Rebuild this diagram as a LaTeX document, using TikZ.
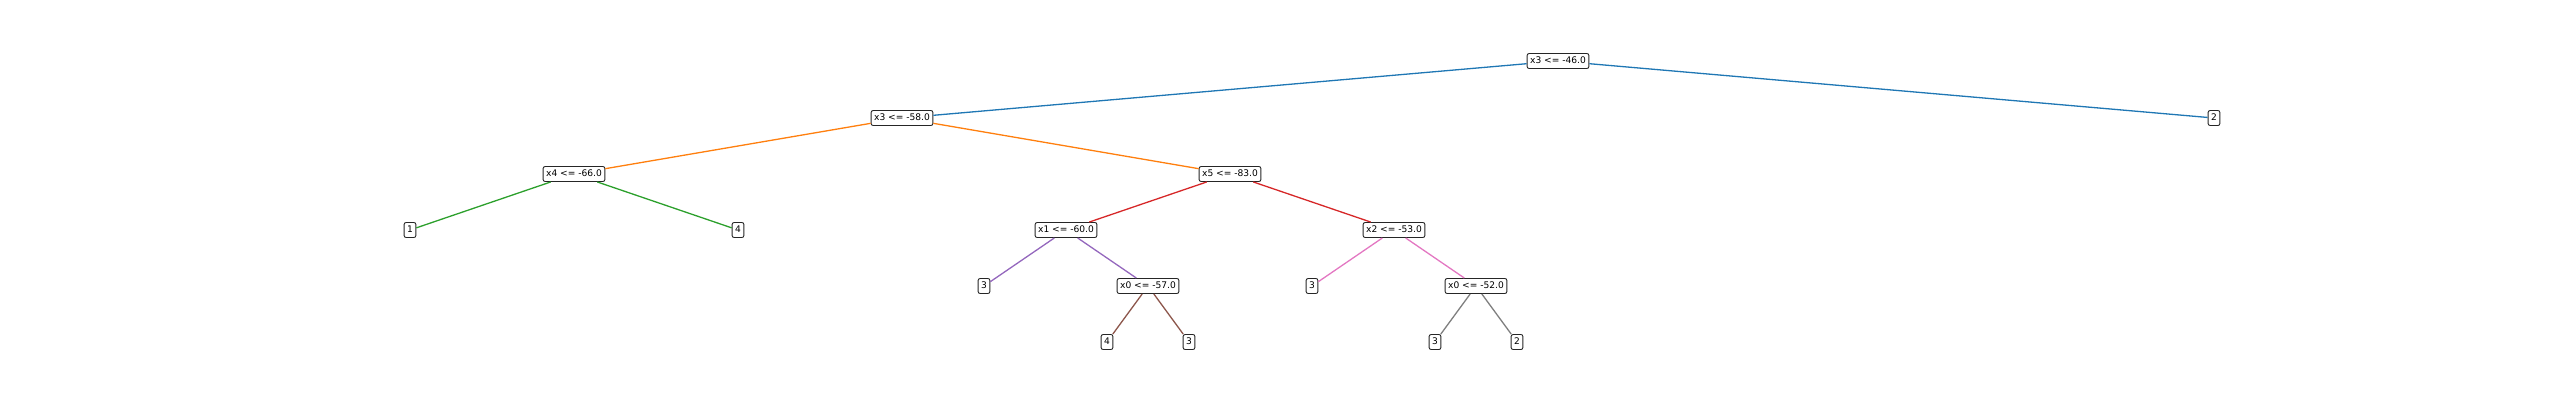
\documentclass[tikz,border=0pt]{standalone}
\usepackage{fontspec}
\setmainfont{DejaVu Sans}
\usetikzlibrary{positioning}
\definecolor{tabblue}{HTML}{1F77B4}
\definecolor{taborange}{HTML}{FF7F0E}
\definecolor{tabgreen}{HTML}{2CA02C}
\definecolor{tabred}{HTML}{D62728}
\definecolor{tabpurple}{HTML}{9467BD}
\definecolor{tabbrown}{HTML}{8C564B}
\definecolor{tabpink}{HTML}{E377C2}
\definecolor{tabgray}{HTML}{7F7F7F}
\tikzset{splitbox/.style={draw=black!85, fill=white, rounded corners=2, line width=0.9pt, inner xsep=3pt, inner ysep=3pt, text height=7pt, text depth=2pt, font=\fontsize{9.1}{11}\selectfont}}
\tikzset{leafbox/.style={splitbox}}
\tikzset{edge/.style={draw, line width=1.3pt}}

\begin{document}
\begin{tikzpicture}[x=1pt,y=-1pt]
	\useasboundingbox (0,0) rectangle (2560,400);
	% split nodes
	\node[splitbox] (r) at (1558,61) {x3 <= -46.0};
	\node[splitbox] (a) at (902,118) {x3 <= -58.0};
	\node[splitbox] (aa) at (574,174) {x4 <= -66.0};
	\node[splitbox] (ab) at (1230,174) {x5 <= -83.0};
	\node[splitbox] (aba) at (1066,230) {x1 <= -60.0};
	\node[splitbox] (abb) at (1394,230) {x2 <= -53.0};
	\node[splitbox] (abab) at (1148,286) {x0 <= -57.0};
	\node[splitbox] (abbb) at (1476,286) {x0 <= -52.0};
	% leaves
	\node[leafbox] (b) at (2214,118) {2};
	\node[leafbox] (aaa) at (410,230) {1};
	\node[leafbox] (aab) at (738,230) {4};
	\node[leafbox] (abaa) at (984,286) {3};
	\node[leafbox] (abba) at (1312,286) {3};
	\node[leafbox] (ababa) at (1107,342) {4};
	\node[leafbox] (ababb) at (1189,342) {3};
	\node[leafbox] (abbba) at (1435,342) {3};
	\node[leafbox] (abbbb) at (1517,342) {2};
	% edges
	\draw[edge, tabblue] (r) -- (a);
	\draw[edge, tabblue] (r) -- (b);
	\draw[edge, taborange] (a) -- (aa);
	\draw[edge, taborange] (a) -- (ab);
	\draw[edge, tabgreen] (aa) -- (aaa);
	\draw[edge, tabgreen] (aa) -- (aab);
	\draw[edge, tabred] (ab) -- (aba);
	\draw[edge, tabred] (ab) -- (abb);
	\draw[edge, tabpurple] (aba) -- (abaa);
	\draw[edge, tabpurple] (aba) -- (abab);
	\draw[edge, tabbrown] (abab) -- (ababa);
	\draw[edge, tabbrown] (abab) -- (ababb);
	\draw[edge, tabpink] (abb) -- (abba);
	\draw[edge, tabpink] (abb) -- (abbb);
	\draw[edge, tabgray] (abbb) -- (abbba);
	\draw[edge, tabgray] (abbb) -- (abbbb);
\end{tikzpicture}
\end{document}
